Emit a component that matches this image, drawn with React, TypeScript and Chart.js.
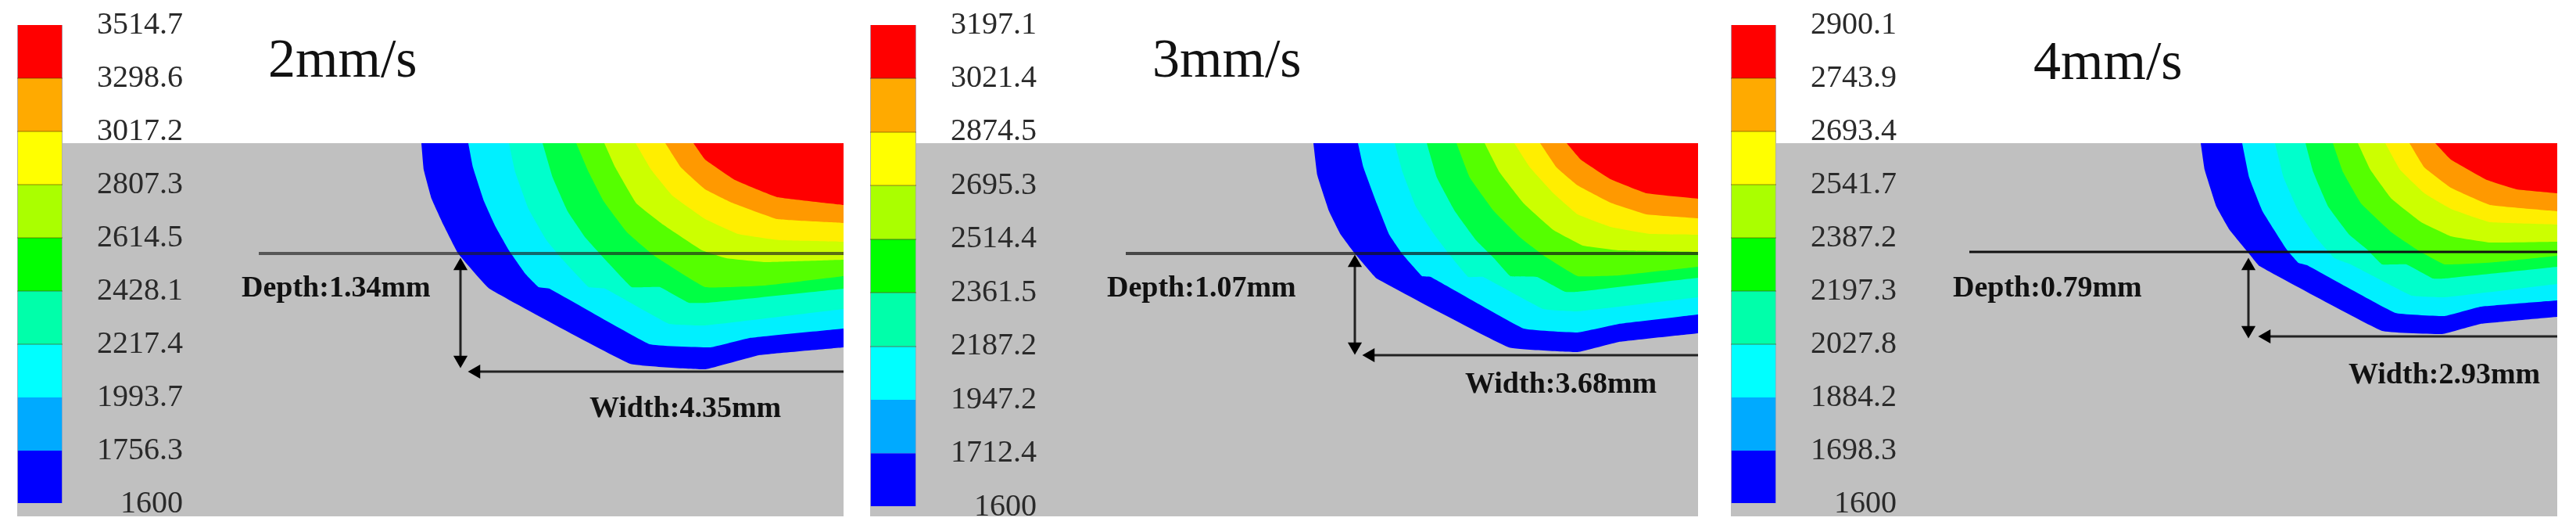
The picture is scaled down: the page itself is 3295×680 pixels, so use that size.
import { useEffect, useRef } from 'react';
import { Chart, registerables } from 'chart.js';

Chart.register(...registerables);

const FONT = '"Liberation Serif", "Times New Roman", serif';

// Colour bar levels, bottom to top
const levels2 = ['1600', '1756.3', '1993.7', '2217.4', '2428.1', '2614.5', '2807.3', '3017.2', '3298.6', '3514.7'];
const levels3 = ['1600', '1712.4', '1947.2', '2187.2', '2361.5', '2514.4', '2695.3', '2874.5', '3021.4', '3197.1'];
const levels4 = ['1600', '1698.3', '1884.2', '2027.8', '2197.3', '2387.2', '2541.7', '2693.4', '2743.9', '2900.1'];
const barColors = ['#0000ff', '#00aaff', '#00ffff', '#00ffaa', '#00ff00', '#aaff00', '#ffff00', '#ffaa00', '#ff0000'];
const poolColors = ['#0000ff', '#00f0ff', '#00ffcc', '#00ff44', '#55ff00', '#ccff00', '#ffee00', '#ff9900', '#ff0000'];

// Contours: [distance from centre line, depth below surface]
const blue2 = [[-5.4, 0], [-5.37, 0.34], [-5.27, 0.71], [-5.12, 1.04], [-4.93, 1.41], [-4.53, 1.86], [-2.73, 2.82], [-1.77, 2.89], [-1.08, 2.71], [0, 2.61]];
const cyan2 = [[-4.8, 0], [-4.74, 0.31], [-4.6, 0.74], [-4.45, 1.07], [-4.28, 1.37], [-4.07, 1.67], [-3.9, 1.84], [-3.76, 1.86], [-2.48, 2.57], [-1.7, 2.61], [-1.2, 2.49], [0, 2.37]];
const spring2 = [[-4.28, 0], [-4.2, 0.37], [-4.03, 0.84], [-3.8, 1.24], [-3.61, 1.47], [-3.26, 1.84], [-3.05, 1.86], [-2.23, 2.31], [-1.77, 2.33], [0, 2.12]];
const green2 = [[-3.85, 0], [-3.72, 0.44], [-3.53, 0.87], [-3.3, 1.21], [-3, 1.54], [-2.71, 1.84], [-2.35, 1.84], [-1.98, 2.04], [-1.73, 2.04], [0, 1.86]];
const lime2 = [[-3.42, 0], [-3.26, 0.37], [-3.07, 0.74], [-2.77, 1.14], [-2.42, 1.44], [-1.77, 1.84], [-1.01, 1.82], [0, 1.7]];
const yellowGreen2 = [[-3.06, 0], [-2.92, 0.31], [-2.65, 0.77], [-2.31, 1.04], [-1.81, 1.37], [-1.5, 1.47], [-1.01, 1.52], [0, 1.49]];
const yellow2 = [[-2.66, 0], [-2.46, 0.34], [-2.19, 0.67], [-1.77, 0.97], [-1.35, 1.16], [-0.82, 1.24], [0, 1.26]];
const orange2 = [[-2.28, 0], [-2.08, 0.31], [-1.77, 0.59], [-1.43, 0.76], [-0.85, 0.97], [0, 1.02]];
const red2 = [[-1.92, 0], [-1.77, 0.21], [-1.39, 0.47], [-0.85, 0.69], [0, 0.79]];

const blue3 = [[-4.92, 0], [-4.87, 0.41], [-4.72, 0.87], [-4.57, 1.17], [-4.39, 1.41], [-4.11, 1.73], [-2.42, 2.61], [-1.54, 2.67], [-1.01, 2.54], [0, 2.43]];
const cyan3 = [[-4.35, 0], [-4.28, 0.31], [-4.11, 0.77], [-3.95, 1.17], [-3.78, 1.42], [-3.53, 1.7], [-3.42, 1.71], [-2.23, 2.37], [-1.54, 2.42], [-1.01, 2.31], [0, 2.19]];
const spring3 = [[-3.88, 0], [-3.78, 0.37], [-3.61, 0.81], [-3.38, 1.16], [-3.19, 1.41], [-2.94, 1.71], [-2.75, 1.71], [-1.98, 2.12], [-1.54, 2.15], [0, 1.97]];
const green3 = [[-3.47, 0], [-3.34, 0.44], [-3.11, 0.87], [-2.84, 1.24], [-2.61, 1.47], [-2.4, 1.7], [-2.06, 1.71], [-1.7, 1.9], [-1.54, 1.9], [0, 1.72]];
const lime3 = [[-3.09, 0], [-2.92, 0.44], [-2.61, 0.87], [-2.27, 1.21], [-1.97, 1.44], [-1.54, 1.7], [-1.01, 1.69], [0, 1.58]];
const yellowGreen3 = [[-2.73, 0], [-2.54, 0.37], [-2.23, 0.77], [-1.85, 1.11], [-1.47, 1.31], [-1.01, 1.37], [0, 1.39]];
const yellow3 = [[-2.35, 0], [-2.15, 0.31], [-1.85, 0.64], [-1.54, 0.91], [-1.12, 1.07], [-0.62, 1.16], [0, 1.17]];
const orange3 = [[-2.02, 0], [-1.81, 0.31], [-1.54, 0.54], [-1.12, 0.76], [-0.66, 0.91], [0, 0.96]];
const red3 = [[-1.68, 0], [-1.5, 0.21], [-1.12, 0.46], [-0.66, 0.64], [0, 0.71]];

const blue4 = [[-4.56, 0], [-4.51, 0.34], [-4.36, 0.81], [-4.19, 1.11], [-3.96, 1.39], [-3.81, 1.57], [-2.24, 2.4], [-1.47, 2.44], [-0.98, 2.31], [0, 2.22]];
const cyan4 = [[-4.03, 0], [-3.94, 0.44], [-3.77, 0.87], [-3.46, 1.36], [-3.31, 1.53], [-3.2, 1.56], [-2.07, 2.17], [-1.44, 2.21], [-0.98, 2.09], [0, 2.01]];
const spring4 = [[-3.61, 0], [-3.5, 0.44], [-3.31, 0.87], [-3.08, 1.21], [-2.85, 1.47], [-2.64, 1.55], [-1.86, 1.95], [-1.44, 1.97], [0, 1.8]];
const green4 = [[-3.22, 0], [-3.12, 0.37], [-2.93, 0.81], [-2.66, 1.17], [-2.43, 1.36], [-2.24, 1.55], [-1.93, 1.55], [-1.59, 1.73], [-1.44, 1.73], [0, 1.58]];
const lime4 = [[-2.87, 0], [-2.74, 0.37], [-2.51, 0.77], [-2.12, 1.14], [-1.78, 1.37], [-1.44, 1.55], [-0.78, 1.52], [0, 1.44]];
const yellowGreen4 = [[-2.55, 0], [-2.39, 0.34], [-2.12, 0.71], [-1.74, 1.01], [-1.36, 1.19], [-0.86, 1.27], [0, 1.26]];
const yellow4 = [[-2.2, 0], [-2.01, 0.34], [-1.7, 0.64], [-1.36, 0.84], [-0.86, 1.01], [0, 1.04]];
const orange4 = [[-1.89, 0], [-1.7, 0.31], [-1.36, 0.57], [-0.86, 0.79], [0, 0.87]];
const red4 = [[-1.56, 0], [-1.36, 0.21], [-0.9, 0.47], [-0.52, 0.59], [0, 0.64]];

const panels = [
  {
    title: '2mm/s', depthText: 'Depth:1.34mm', widthText: 'Width:4.35mm', levels: levels2,
    contours: [blue2, cyan2, spring2, green2, lime2, yellowGreen2, yellow2, orange2, red2],
    depthLine: [[-7.48, 1.41], [0, 1.41]], depthArrow: [[-4.9, 1.57], [-4.9, 2.77]], widthArrow: [[-4.7, 2.92], [0, 2.92]],
    titleAt: [-7.36, -0.85], depthAt: [-7.7, 1.96], widthAt: [-3.25, 3.5],
    lineColor: 'rgba(30,30,30,0.65)', lineWidth: 4,
    grayLeft: 22, grayRight: 1079, barLeft: 22, barWidth: 58, barBottom: 644, labelRight: 228,
  },
  {
    title: '3mm/s', depthText: 'Depth:1.07mm', widthText: 'Width:3.68mm', levels: levels3,
    contours: [blue3, cyan3, spring3, green3, lime3, yellowGreen3, yellow3, orange3, red3],
    depthLine: [[-7.32, 1.41], [0, 1.41]], depthArrow: [[-4.39, 1.53], [-4.39, 2.6]], widthArrow: [[-4.19, 2.71], [0, 2.71]],
    titleAt: [-6.98, -0.85], depthAt: [-7.56, 1.96], widthAt: [-2.98, 3.19],
    lineColor: 'rgba(20,20,20,0.7)', lineWidth: 4,
    grayLeft: 1113, grayRight: 2172, barLeft: 1113, barWidth: 59, barBottom: 648, labelRight: 1320,
  },
  {
    title: '4mm/s', depthText: 'Depth:0.79mm', widthText: 'Width:2.93mm', levels: levels4,
    contours: [blue4, cyan4, spring4, green4, lime4, yellowGreen4, yellow4, orange4, red4],
    depthLine: [[-7.52, 1.39], [0, 1.39]], depthArrow: [[-3.95, 1.57], [-3.95, 2.39]], widthArrow: [[-3.72, 2.47], [0, 2.47]],
    titleAt: [-6.7, -0.82], depthAt: [-7.73, 1.96], widthAt: [-2.67, 3.07],
    lineColor: '#111111', lineWidth: 3,
    grayLeft: 2214, grayRight: 3271, barLeft: 2214, barWidth: 58, barBottom: 644, labelRight: 2420,
  },
];

const SURFACE_TOP = 1.83; // white band above the surface
const SUBSTRATE_BOTTOM = 4.77;
const PAGE_HEIGHT = 680;

const toXY = (pts: number[][]) => pts.map(([x, y]) => ({ x, y }));

type PanelInfo = (typeof panels)[number];

function PoolChart({ panel }: { panel: PanelInfo }) {
  const ref = useRef<HTMLCanvasElement | null>(null);

  useEffect(() => {
    if (!ref.current) return;
    const width = panel.grayRight - panel.grayLeft;

    const textPlugin = {
      id: 'panelText',
      afterDraw(chart: any) {
        const { ctx, scales } = chart;
        const put = (text: string, at: number[], font: string) => {
          ctx.save();
          ctx.font = font;
          ctx.fillStyle = '#111';
          ctx.textAlign = 'left';
          ctx.textBaseline = 'alphabetic';
          ctx.fillText(text, scales.x.getPixelForValue(at[0]), scales.y.getPixelForValue(at[1]));
          ctx.restore();
        };
        put(panel.title, panel.titleAt, `70px ${FONT}`);
        put(panel.depthText, panel.depthAt, `bold 38px ${FONT}`);
        put(panel.widthText, panel.widthAt, `bold 38px ${FONT}`);
      },
    };

    const arrow = (pts: number[][], radius: number[], rotation: number[]) => ({
      data: toXY(pts),
      borderColor: '#222',
      borderWidth: 3,
      pointStyle: 'triangle',
      pointRadius: radius,
      pointRotation: rotation,
      pointBackgroundColor: '#000',
      pointBorderWidth: 0,
      fill: false,
    });

    const bands = panel.contours
      .map((pts, i) => ({
        data: toXY(pts),
        borderWidth: 0,
        pointRadius: 0,
        tension: 0.08,
        backgroundColor: poolColors[i],
        fill: 'origin',
      }))
      .reverse();

    const chart = new Chart(ref.current, {
      type: 'line',
      data: {
        datasets: [
          arrow(panel.depthArrow, [10.5, 10.5], [0, 180]),
          arrow(panel.widthArrow, [10.5, 0], [270, 0]),
          { data: toXY(panel.depthLine), borderColor: panel.lineColor, borderWidth: panel.lineWidth, pointRadius: 0, fill: false },
          ...bands,
          {
            data: toXY([[-width / 100, SUBSTRATE_BOTTOM], [0, SUBSTRATE_BOTTOM]]),
            borderWidth: 0,
            pointRadius: 0,
            backgroundColor: '#c0c0c0',
            fill: 'origin',
          },
        ] as any,
      },
      options: {
        animation: false,
        responsive: false,
        devicePixelRatio: 1,
        events: [],
        layout: { autoPadding: false, padding: 0 },
        plugins: { legend: { display: false }, tooltip: { enabled: false } },
        scales: {
          x: { type: 'linear', display: false, min: -width / 100, max: 0 },
          y: { type: 'linear', display: false, reverse: true, min: -SURFACE_TOP, max: PAGE_HEIGHT / 100 - SURFACE_TOP },
        },
      },
      plugins: [textPlugin],
    });
    return () => chart.destroy();
  }, [panel]);

  const w = panel.grayRight - panel.grayLeft;
  return (
    <canvas
      ref={ref}
      width={w}
      height={PAGE_HEIGHT}
      style={{ position: 'absolute', left: panel.grayLeft, top: 0, width: w, height: PAGE_HEIGHT }}
    />
  );
}

function ColorBar({ panel }: { panel: PanelInfo }) {
  const ref = useRef<HTMLCanvasElement | null>(null);
  const canvasWidth = panel.labelRight - panel.barLeft + 6;

  useEffect(() => {
    if (!ref.current) return;
    const rim = {
      data: [[0, 9]],
      backgroundColor: '#a8a8b8',
      barPercentage: 1,
      categoryPercentage: 1,
      order: 2,
    };
    const bands = barColors.map((color, i) => ({
      data: [[i, i + 1]],
      backgroundColor: color,
      barPercentage: 0.97,
      categoryPercentage: 1,
      order: 1,
    }));

    const chart = new Chart(ref.current, {
      type: 'bar',
      data: { labels: ['T'], datasets: [rim, ...bands] as any },
      options: {
        animation: false,
        responsive: false,
        devicePixelRatio: 1,
        events: [],
        layout: { autoPadding: false, padding: { top: 32, bottom: PAGE_HEIGHT - panel.barBottom, left: 0, right: 0 } },
        plugins: { legend: { display: false }, tooltip: { enabled: false } },
        datasets: { bar: { grouped: false } },
        scales: {
          x: { display: false },
          y: {
            position: 'right',
            min: 0,
            max: 9,
            border: { display: false },
            afterFit(scale: any) {
              scale.width = canvasWidth - panel.barWidth;
              scale.paddingTop = 0;
              scale.paddingBottom = 0;
            },
            grid: {
              z: 1,
              drawTicks: false,
              lineWidth: 2,
              color: (c: any) => (c.tick.value >= 3 && c.tick.value <= 8 ? 'rgba(90,60,0,0.3)' : 'rgba(0,0,0,0)'),
            },
            ticks: {
              stepSize: 1,
              autoSkip: false,
              crossAlign: 'far',
              padding: panel.labelRight - panel.barLeft - panel.barWidth - 110,
              color: '#2a2a2a',
              font: { family: FONT, size: 40 },
              callback: (v: any) => panel.levels[v],
            },
          },
        },
      } as any,
    });
    return () => chart.destroy();
  }, [panel]);

  return (
    <canvas
      ref={ref}
      width={canvasWidth}
      height={PAGE_HEIGHT}
      style={{ position: 'absolute', left: panel.barLeft, top: 0, width: canvasWidth, height: PAGE_HEIGHT }}
    />
  );
}

export default function App() {
  return (
    <div style={{ position: 'fixed', left: 0, top: 0, width: 3295, height: PAGE_HEIGHT, background: '#fff', overflow: 'hidden', filter: 'blur(0.7px)' }}>
      {panels.map((p) => (
        <PoolChart key={p.title} panel={p} />
      ))}
      {panels.map((p) => (
        <ColorBar key={p.title} panel={p} />
      ))}
    </div>
  );
}
